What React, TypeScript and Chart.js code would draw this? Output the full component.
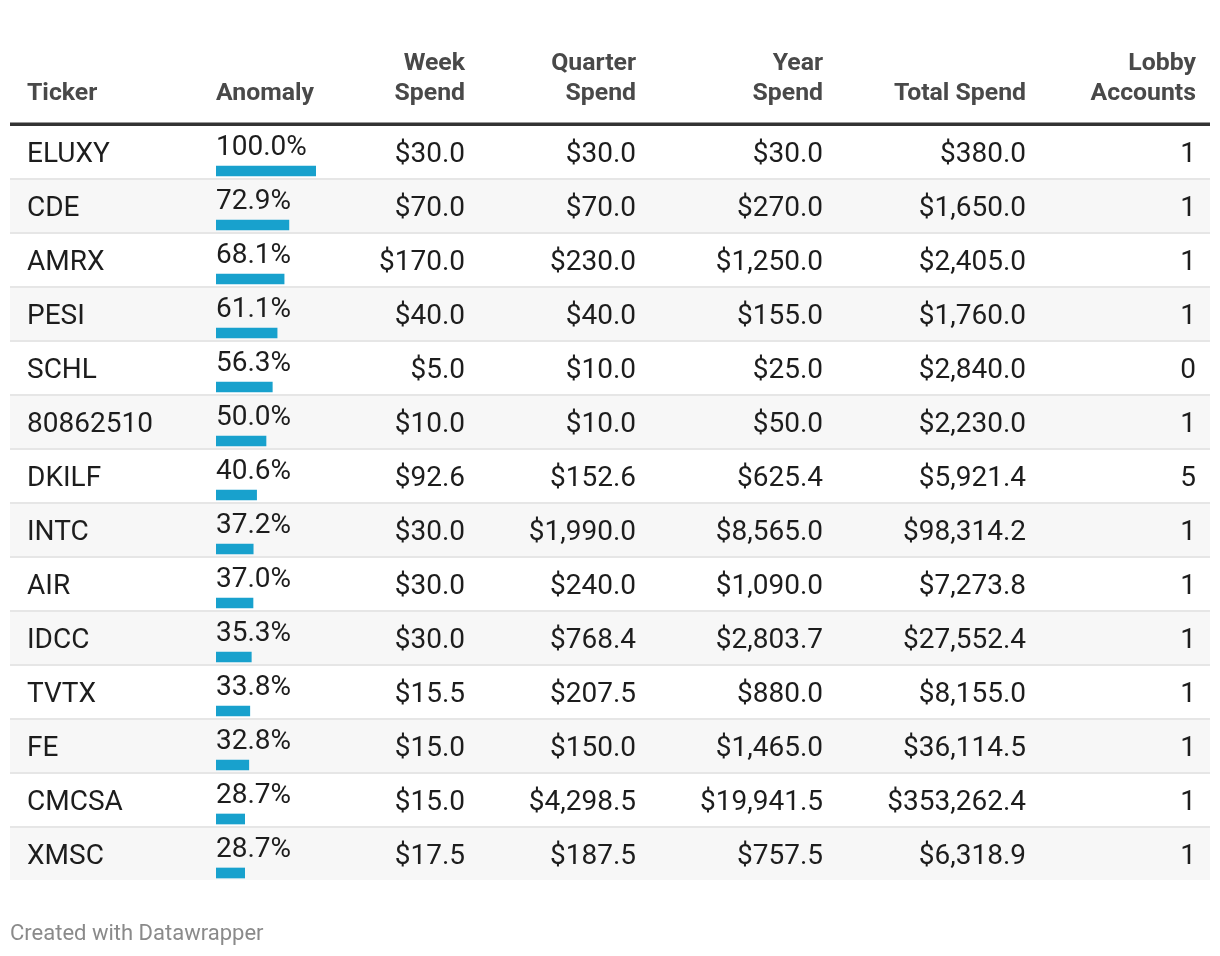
import React, { useEffect, useRef } from "react";
import { Chart, registerables } from "chart.js";

Chart.register(...registerables);

const tickers = ["ELUXY", "CDE", "AMRX", "PESI", "SCHL", "80862510", "DKILF", "INTC", "AIR", "IDCC", "TVTX", "FE", "CMCSA", "XMSC"];
const anomaly = [100.0, 72.9, 68.1, 61.1, 56.3, 50.0, 40.6, 37.2, 37.0, 35.3, 33.8, 32.8, 28.7, 28.7];
const weekSpend = [30, 70, 170, 40, 5, 10, 92.6, 30, 30, 30, 15.5, 15, 15, 17.5];
const quarterSpend = [30, 70, 230, 40, 10, 10, 152.6, 1990, 240, 768.4, 207.5, 150, 4298.5, 187.5];
const yearSpend = [30, 270, 1250, 155, 25, 50, 625.4, 8565, 1090, 2803.7, 880, 1465, 19941.5, 757.5];
const totalSpend = [380, 1650, 2405, 1760, 2840, 2230, 5921.4, 98314.2, 7273.8, 27552.4, 8155, 36114.5, 353262.4, 6318.9];
const lobbyAccounts = [1, 1, 1, 1, 0, 1, 5, 1, 1, 1, 1, 1, 1, 1];

const headers: { lines: string[]; x: number; align: CanvasTextAlign }[] = [
  { lines: ["Ticker"], x: 27, align: "left" },
  { lines: ["Anomaly"], x: 216, align: "left" },
  { lines: ["Week", "Spend"], x: 465, align: "right" },
  { lines: ["Quarter", "Spend"], x: 636, align: "right" },
  { lines: ["Year", "Spend"], x: 823, align: "right" },
  { lines: ["Total Spend"], x: 1026, align: "right" },
  { lines: ["Lobby", "Accounts"], x: 1196, align: "right" },
];

const money = (v: number) =>
  "$" + v.toLocaleString("en-US", { minimumFractionDigits: 1, maximumFractionDigits: 1 });

const FONT = "Roboto, 'Noto Sans', sans-serif";
const ROW_H = 54;
const BAR_OFFSET = 18; // bar center below row center

const tablePlugin = {
  id: "tablePlugin",
  beforeDraw(chart: any) {
    const ctx = chart.ctx as CanvasRenderingContext2D;
    const y = chart.scales.y;
    ctx.save();
    ctx.fillStyle = "#ffffff";
    ctx.fillRect(0, 0, chart.width, chart.height);
    tickers.forEach((_, i) => {
      const top = Math.round(y.getPixelForValue(i) - BAR_OFFSET - ROW_H / 2);
      if (i % 2 === 1) {
        ctx.fillStyle = "#f7f7f7";
        ctx.fillRect(10, top, 1200, ROW_H - 2);
      }
      if (i < tickers.length - 1) {
        ctx.fillStyle = "#e6e6e6";
        ctx.fillRect(10, top + ROW_H - 2, 1200, 2);
      }
    });
    // header line
    ctx.fillStyle = "#333333";
    ctx.fillRect(10, 122.5, 1200, 3.5);
    ctx.restore();
  },
  afterDraw(chart: any) {
    const ctx = chart.ctx as CanvasRenderingContext2D;
    const y = chart.scales.y;
    ctx.save();
    ctx.textBaseline = "alphabetic";
    // headers
    ctx.font = `bold 24.8px ${FONT}`;
    ctx.fillStyle = "#494949";
    headers.forEach((h) => {
      ctx.textAlign = h.align;
      const n = h.lines.length;
      h.lines.forEach((ln, k) => {
        ctx.fillText(ln, h.x, 100 - (n - 1 - k) * 30);
      });
    });
    // body
    ctx.font = `28px ${FONT}`;
    ctx.fillStyle = "#1d1d1d";
    tickers.forEach((t, i) => {
      const top = Math.round(y.getPixelForValue(i) - BAR_OFFSET - ROW_H / 2);
      const base = top + 36;
      ctx.textAlign = "left";
      ctx.fillText(t, 27, base);
      ctx.fillText(anomaly[i].toFixed(1) + "%", 216, top + 29);
      ctx.textAlign = "right";
      ctx.fillText(money(weekSpend[i]), 465, base);
      ctx.fillText(money(quarterSpend[i]), 636, base);
      ctx.fillText(money(yearSpend[i]), 823, base);
      ctx.fillText(money(totalSpend[i]), 1026, base);
      ctx.fillText(String(lobbyAccounts[i]), 1196, base);
    });
    // footer
    ctx.textAlign = "left";
    ctx.font = `22px ${FONT}`;
    ctx.fillStyle = "#8a8a8a";
    ctx.fillText("Created with Datawrapper", 10, 940);
    ctx.restore();
  },
};

export default function App() {
  const ref = useRef<HTMLCanvasElement>(null);
  useEffect(() => {
    if (!ref.current) return;
    const chart = new Chart(ref.current, {
      type: "bar",
      data: {
        labels: tickers,
        datasets: [
          {
            data: anomaly,
            backgroundColor: "#18a1cd",
            barThickness: 10,
            borderWidth: 0,
          },
        ],
      },
      options: {
        indexAxis: "y",
        responsive: false,
        animation: false,
        maintainAspectRatio: false,
        layout: { padding: { left: 216, right: 1220 - 316, top: 144, bottom: 956 - 900 } },
        plugins: { legend: { display: false }, tooltip: { enabled: false }, title: { display: false } },
        scales: {
          x: { display: false, min: 0, max: 100 },
          y: { display: false, offset: true },
        },
      },
      plugins: [tablePlugin],
    });
    return () => chart.destroy();
  }, []);
  return (
    <div style={{ position: "absolute", left: 0, top: 0, width: 1220, height: 956, background: "#fff" }}>
      <canvas ref={ref} width={1220} height={956} style={{ display: "block" }} />
    </div>
  );
}
